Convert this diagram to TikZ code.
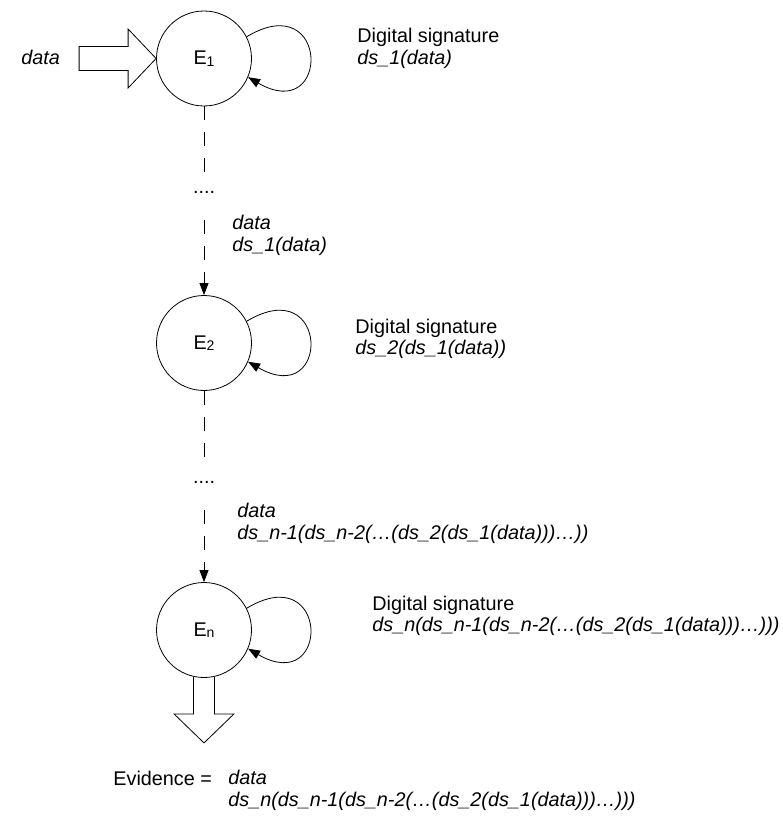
\documentclass[tikz,border=0pt]{standalone}
\usepackage{fontspec}
\setmainfont{Liberation Sans}
\usetikzlibrary{arrows.meta}
\newcommand{\entsub}[1]{\raisebox{-1.5pt}{\fontsize{14}{14}\selectfont #1}}

\begin{document}
\begin{tikzpicture}[x=1pt,y=1pt,line width=0.8pt,
  every node/.style={font=\fontsize{19.8}{21.6}\selectfont,inner sep=0pt},
  ent/.style={draw,circle,minimum size=95pt},
  txt/.style={anchor=west,align=left},
  dashline/.style={dash pattern=on 14pt off 12pt},
  flow/.style={dash pattern=on 14pt off 12pt,-{Triangle[length=12pt,width=9pt]}},
  selfsig/.style={-{Triangle[length=12pt,width=9pt]}}]

\useasboundingbox (0,0) rectangle (783,-816);

% entities
\node[ent] (E1) at (204,-58.5) {E\entsub{1}};
\node[ent] (E2) at (204,-343) {E\entsub{2}};
\node[ent] (En) at (204,-630) {E\entsub{n}};

\node (dotsA) at (204,-192) {....};
\node (dotsB) at (204,-482) {....};

% input arrow
\draw (E1.west) -- ++(-28,29.5) -- ++(0,-17.5) -- ++(-49,0) -- ++(0,-24)
  -- ++(49,0) -- ++(0,-17.5) -- cycle;
\node[anchor=base west] (datain) at (21,-64) {\itshape data};

% output arrow
\draw (En.south) ++(-10.5,1) -- ++(0,-37) -- ++(-19.5,0) -- ++(30,-29)
  -- ++(30,29) -- ++(-19.5,0) -- ++(0,37);

% self loops
\draw[selfsig] (E1.27) .. controls +(83,50) and +(83,-48) .. (E1.-23);
\draw[selfsig] (E2.27) .. controls +(83,50) and +(83,-48) .. (E2.-23);
\draw[selfsig] (En.27) .. controls +(83,50) and +(83,-48) .. (En.-23);

% passing on
\draw[dashline,shorten >=16pt] (E1.south) -- (dotsA.north);
\draw[flow,shorten <=27pt] (dotsA.south) -- (E2.north);
\draw[dashline,shorten >=13pt] (E2.south) -- (dotsB.north);
\draw[flow,shorten <=27pt] (dotsB.south) -- (En.north);

% labels
\node[txt] (sigA) at (357,-48.5) {Digital signature\\\itshape ds\_1(data)};
\node[txt] (msgA) at (232,-235.5) {\itshape data\\\itshape ds\_1(data)};
\node[txt] (sigB) at (355,-339) {Digital signature\\\itshape ds\_2(ds\_1(data))};
\node[txt] (msgB) at (237,-523.5) {\itshape data\\\itshape ds\_n-1(ds\_n-2(…(ds\_2(ds\_1(data)))…))};
\node[txt] (sigN) at (372,-616) {Digital signature\\\itshape ds\_n(ds\_n-1(ds\_n-2(…(ds\_2(ds\_1(data)))…)))};

\node[anchor=base west] (evid) at (113,-785) {Evidence =};
\node[txt] (evidval) at (228,-790.5) {\itshape data\\\itshape ds\_n(ds\_n-1(ds\_n-2(…(ds\_2(ds\_1(data)))…)))};
\end{tikzpicture}
\end{document}
